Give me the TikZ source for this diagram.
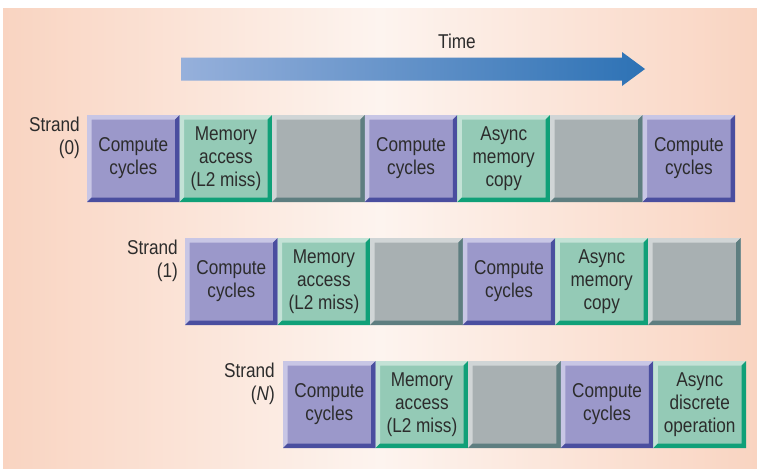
\documentclass[tikz,border=0pt]{standalone}
\usepackage{fontspec}
\setmainfont{Liberation Sans}[FakeStretch=0.86]
\usepackage{tikz}

\definecolor{bgpeach}{HTML}{F9D4C1}
\definecolor{bgwhite}{HTML}{FDF4EF}
\definecolor{arrowL}{HTML}{96B0DB}
\definecolor{arrowR}{HTML}{2D72B5}
\definecolor{txt}{HTML}{2C2C2C}
\definecolor{cpfill}{HTML}{9B98CA}
\definecolor{cplight}{HTML}{C8C6E5}
\definecolor{cpdark}{HTML}{4A4E9F}
\definecolor{mmfill}{HTML}{94CAB6}
\definecolor{mmlight}{HTML}{C3E2D6}
\definecolor{mmdark}{HTML}{10A078}
\definecolor{idfill}{HTML}{A8B0B2}
\definecolor{idlight}{HTML}{D0D5D6}
\definecolor{iddark}{HTML}{5E7E80}

\begin{document}
\begin{tikzpicture}[x=1pt, y=-1pt,
	font=\fontsize{20}{23}\selectfont, text=txt,
	bevel/.style n args={3}{rectangle, minimum width=92.6pt, minimum height=87pt,
		inner sep=0pt, outer sep=0pt, align=center, fill=#1,
		path picture={
			\fill[#2] (path picture bounding box.south west) -- (path picture bounding box.north west)
				-- (path picture bounding box.north east) -- ([shift={(-4.5pt,-4.5pt)}]path picture bounding box.north east)
				-- ([shift={(4.5pt,-4.5pt)}]path picture bounding box.north west) -- ([shift={(4.5pt,4.5pt)}]path picture bounding box.south west) -- cycle;
			\fill[#3] (path picture bounding box.south west) -- (path picture bounding box.south east)
				-- (path picture bounding box.north east) -- ([shift={(-4.5pt,-4.5pt)}]path picture bounding box.north east)
				-- ([shift={(-4.5pt,4.5pt)}]path picture bounding box.south east) -- ([shift={(4.5pt,4.5pt)}]path picture bounding box.south west) -- cycle;
		}},
	cyc/.style={bevel={cpfill}{cplight}{cpdark}},
	mem/.style={bevel={mmfill}{mmlight}{mmdark}},
	idle/.style={bevel={idfill}{idlight}{iddark}},
	strand/.style={anchor=east, align=right, inner sep=0pt}]
	\useasboundingbox (0,0) rectangle (757,472);
	\shade[left color=bgpeach, right color=bgpeach, middle color=bgwhite] (3,8) rectangle (757,468);

	% time arrow
	\node (time) at (457,41) {Time};
	\coordinate (t0) at (181,69);
	\coordinate (t1) at (645,69);
	\shade[left color=arrowL, right color=arrowR] (t0) ++(0,-11.5) -- ++(441,0) -- ++(0,-5.5) -- (t1)
		-- ++(-23,17) -- ++(0,-5.5) -- ++(-441,0) -- cycle;

	% strand 0
	\node (sa) at (80,137.5) [strand] {Strand\\(0)};
	\node (a1) at (133.3,158.5) [cyc] {Compute\\cycles};
	\node (a2) at (225.9,158.5) [mem] {Memory\\access\\(L2 miss)};
	\node (a3) at (318.5,158.5) [idle] {};
	\node (a4) at (411.1,158.5) [cyc] {Compute\\cycles};
	\node (a5) at (503.7,158.5) [mem] {Async\\memory\\copy};
	\node (a6) at (596.3,158.5) [idle] {};
	\node (a7) at (688.9,158.5) [cyc] {Compute\\cycles};

	% strand 1
	\node (sb) at (178,260.5) [strand] {Strand\\(1)};
	\node (b1) at (231.3,281.5) [cyc] {Compute\\cycles};
	\node (b2) at (323.9,281.5) [mem] {Memory\\access\\(L2 miss)};
	\node (b3) at (416.5,281.5) [idle] {};
	\node (b4) at (509.1,281.5) [cyc] {Compute\\cycles};
	\node (b5) at (601.7,281.5) [mem] {Async\\memory\\copy};
	\node (b6) at (694.3,281.5) [idle] {};

	% strand N
	\node (sn) at (275,383.5) [strand] {Strand\\(\textit{N})};
	\node (n1) at (329.3,404.5) [cyc] {Compute\\cycles};
	\node (n2) at (421.9,404.5) [mem] {Memory\\access\\(L2 miss)};
	\node (n3) at (514.5,404.5) [idle] {};
	\node (n4) at (607.1,404.5) [cyc] {Compute\\cycles};
	\node (n5) at (699.7,404.5) [mem] {Async\\discrete\\operation};
\end{tikzpicture}
\end{document}
